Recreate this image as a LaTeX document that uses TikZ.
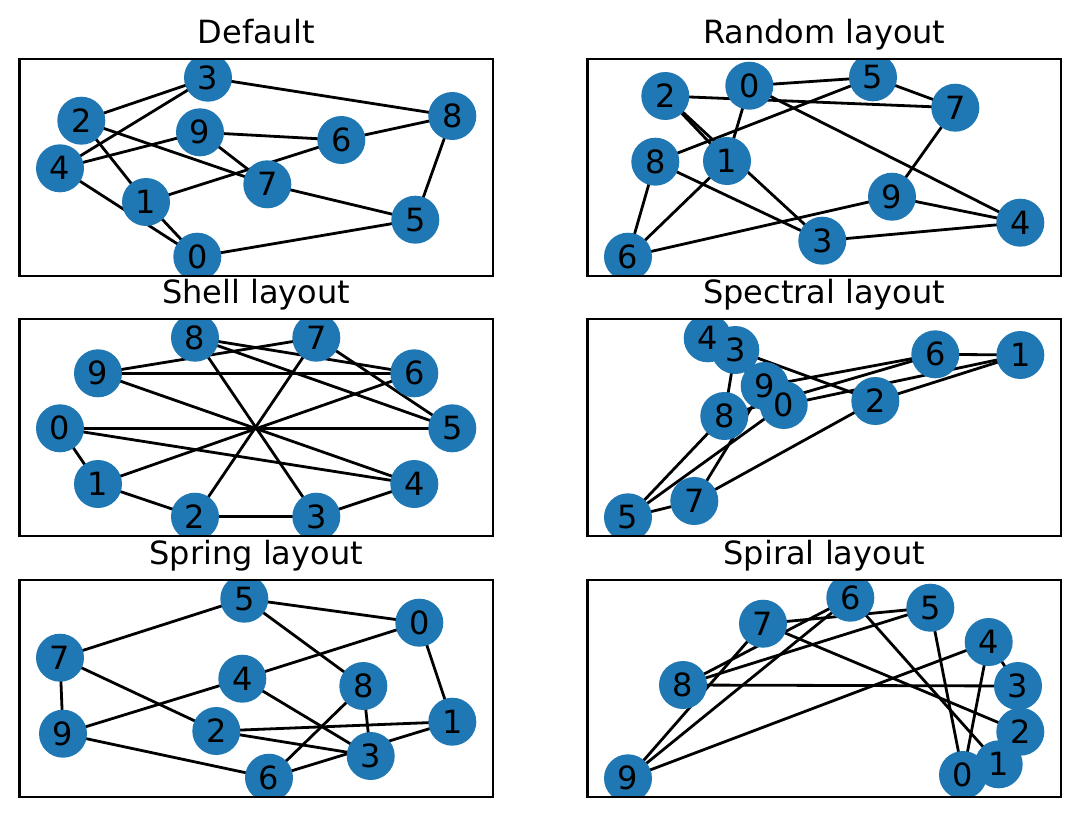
\documentclass[tikz,border=0pt]{standalone}
\usepackage{fontspec}
\setmainfont{DejaVu Sans}
\pgfdeclarelayer{bg}
\pgfdeclarelayer{fg}
\pgfsetlayers{bg,main,fg}
\definecolor{nodeblue}{HTML}{1F77B4}
\tikzset{
  vtx/.style={circle, fill=nodeblue, minimum size=48pt, inner sep=0pt, outer sep=0pt},
  lbl/.style={inner sep=0pt, font=\fontsize{32}{38}\selectfont},
  ttl/.style={anchor=base, inner sep=0pt, font=\fontsize{32}{38}\selectfont},
  edge/.style={line width=2.8pt, line cap=butt, black},
  frame/.style={line width=2.2pt, line join=miter, black}
}
\newcommand{\mypanel}[5]{%
  \begin{scope}
    \clip (#2,#3) rectangle ++(473.5,216.7);
    \foreach \n/\vx/\vy in {#5} { \node[vtx] (#1\n) at (\vx,\vy) {}; }
  \end{scope}
  \begin{pgfonlayer}{bg}
    \foreach \u/\v in {0/1,1/2,2/3,3/4,4/0,0/5,1/6,2/7,3/8,4/9,5/7,7/9,9/6,6/8,8/5} {
      \draw[edge] (#1\u.center) -- (#1\v.center);
    }
  \end{pgfonlayer}
  \begin{pgfonlayer}{fg}
    \foreach \n in {0,...,9} { \node[lbl] (#1l\n) at (#1\n) {\n}; }
    \draw[frame] (#2,#3) rectangle ++(473.5,216.7);
    \node[ttl] (#1title) at (#2+236.75,#3-15.7) {#4};
  \end{pgfonlayer}
}
\begin{document}
\begin{tikzpicture}[x=1pt,y=-1pt]
\begin{pgfonlayer}{bg}
\fill[white] (0,0) rectangle (1079,817);
\end{pgfonlayer}
\useasboundingbox (0,0) rectangle (1079,817);
\mypanel{a}{19.5}{59}{Default}{0/197.3/256.7, 1/146/202, 2/81.3/120.7, 3/208/77.7, 4/60/168.3, 5/415.3/219.7, 6/341.3/140, 7/267.3/184.3, 8/452.3/116, 9/200/132.3}
\mypanel{b}{587.5}{59}{Random layout}{0/749.3/85.7, 1/727/161, 2/665.3/96, 3/822.3/240.7, 4/1020.3/222.7, 5/873/77.3, 6/628/256.7, 7/955.3/107.7, 8/655.3/161.7, 9/892/196.7}
\mypanel{c}{19.5}{319.3}{Shell layout}{0/60/428.3, 1/98/484, 2/195/516.7, 3/316.3/516.7, 4/414.3/484, 5/452.3/428.3, 6/414.3/373.3, 7/316.3/337.7, 8/195/337.7, 9/98/373.3}
\mypanel{d}{587.5}{319.3}{Spectral layout}{0/783.7/405, 1/1020.3/355, 2/875.3/401, 3/735.3/350, 4/707.7/338.3, 5/628/517.3, 6/935.3/354.3, 7/694.3/501, 8/724.3/416, 9/764.7/386}
\mypanel{e}{19.5}{580}{Spring layout}{0/419.3/622.7, 1/452.3/721.7, 2/216.3/731, 3/370.7/756, 4/242.3/678.7, 5/244.3/598.7, 6/269/777.7, 7/60/657.7, 8/363.3/686, 9/63/733.7}
\mypanel{f}{587.5}{580}{Spiral layout}{0/963/775, 1/998.7/764.3, 2/1020.3/731.7, 3/1018/686, 4/988.7/642, 5/930.3/607.7, 6/850.3/597.7, 7/763/623.7, 8/683/685, 9/628/778.3}
\end{tikzpicture}
\end{document}
